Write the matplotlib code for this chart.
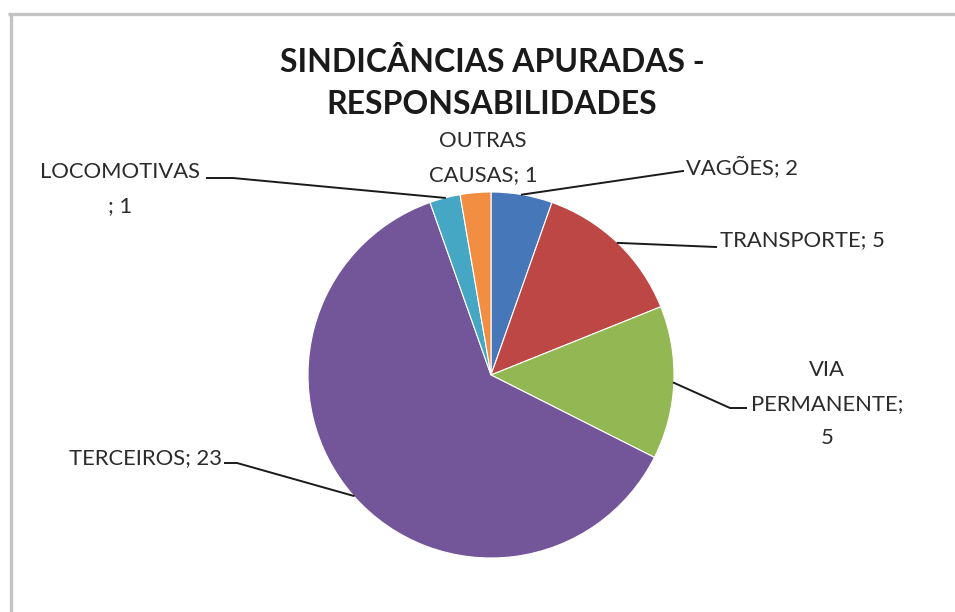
import numpy as np
import matplotlib.pyplot as plt

W, H = 955, 612

names = ["VAGÕES", "TRANSPORTE", "VIA PERMANENTE", "TERCEIROS", "LOCOMOTIVAS", "OUTRAS CAUSAS"]
counts = [2, 5, 5, 23, 1, 1]
# how each label is broken over lines ({v} = count)
label_fmt = ["VAGÕES; {v}", "TRANSPORTE; {v}", "VIA\nPERMANENTE;\n{v}",
             "TERCEIROS; {v}", "LOCOMOTIVAS\n; {v}", "OUTRAS\nCAUSAS; {v}"]
colors = ["#4677b8", "#bd4744", "#93b752", "#73569a", "#45a7c4", "#f28e42"]
title = "SINDICÂNCIAS APURADAS -\nRESPONSABILIDADES"

# label placement in pixel coords (y from top): text pos, alignment, leader elbows
label_pos = [(686, 168), (720, 240), (827, 404), (222, 458), (120, 189), (483, 158)]
label_ha = ["left", "left", "center", "right", "center", "center"]
leaders = [[(683, 171)], [(716, 247)], [(746, 408), (730, 408)],
           [(225, 463), (237, 463)], [(207, 178), (233, 178)], []]

CX, CY, R = 491, 375, 183


def fy(y):
    return H - y


fig = plt.figure(figsize=(W / 100, H / 100), dpi=100)
ax = fig.add_axes([0, 0, 1, 1])

wedges, _ = ax.pie(counts, colors=colors, startangle=90, counterclock=False,
                   center=(CX, fy(CY)), radius=R,
                   wedgeprops=dict(edgecolor="white", linewidth=0.8))
ax.set_xlim(0, W)
ax.set_ylim(0, H)
ax.set_aspect("equal")
ax.axis("off")

for i, w in enumerate(wedges):
    txt = label_fmt[i].format(v=counts[i])
    x, y = label_pos[i]
    ax.text(x, fy(y), txt, ha=label_ha[i], va="center", fontsize=15.8,
            family="Lato", color="#2b2b2b", linespacing=1.9)
    if leaders[i]:
        mid = np.deg2rad((w.theta1 + w.theta2) / 2)
        px = [p[0] for p in leaders[i]] + [CX + R * np.cos(mid)]
        py = [fy(p[1]) for p in leaders[i]] + [fy(CY) + R * np.sin(mid)]
        ax.plot(px, py, color="#1a1a1a", lw=1.4)

ax.text(492, fy(83), title, ha="center", va="center", fontsize=23,
        family="Lato", weight="bold", color="#1a1a1a", linespacing=1.5)

# chart area border (top and left edges visible)
ax.plot([8, W], [fy(14), fy(14)], color="#c4c4c4", lw=2.4, solid_capstyle="butt")
ax.plot([11, 11], [fy(14), 0], color="#c4c4c4", lw=2.4, solid_capstyle="butt")

fig.savefig("out.png", dpi=100, facecolor="white")
